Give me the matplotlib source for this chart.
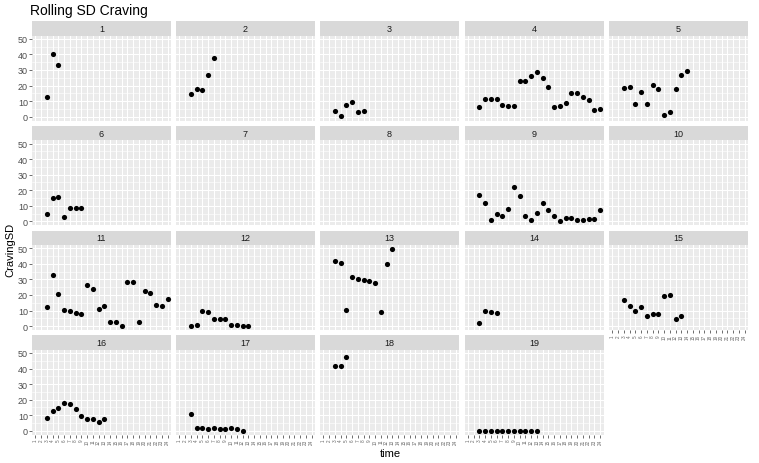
import matplotlib
matplotlib.use("Agg")
import matplotlib.pyplot as plt
from matplotlib.ticker import MultipleLocator

plt.rcParams['font.family'] = ['Liberation Sans', 'DejaVu Sans']

title = "Rolling SD Craving"
x_label = "time"
y_label = "CravingSD"
time_levels = list(range(1, 25))
y_ticks = [0, 10, 20, 30, 40, 50]

# values per participant (panel), observed from time 3 onwards
sd_1 = [12.6, 40.4, 33.5]
sd_2 = [14.9, 17.5, 17.2, 26.5, 37.4]
sd_3 = [4.0, 0.6, 7.7, 9.4, 2.8, 3.4]
sd_4 = [6.0, 11.7, 11.7, 11.1, 7.4, 7.2, 7.2, 22.8, 22.8, 26.3, 28.6, 25.0,
        18.8, 6.0, 7.2, 9.0, 15.4, 15.4, 12.8, 10.9, 4.2, 4.9]
sd_5 = [18.3, 19.0, 7.9, 15.8, 7.9, 20.3, 17.7, 0.8, 2.9, 17.7, 27.1, 29.2]
sd_6 = [4.9, 15.1, 15.6, 2.6, 8.7, 8.7, 8.7]
sd_7 = []
sd_8 = []
sd_9 = [17.2, 11.7, 0.9, 4.5, 3.8, 8.3, 21.9, 16.6, 3.6, 0.9, 5.1, 11.7,
        7.3, 3.2, 0.3, 1.9, 1.9, 1.1, 1.1, 1.3, 1.3, 7.5]
sd_10 = []
sd_11 = [12.3, 33.0, 20.6, 10.6, 9.6, 8.5, 8.0, 26.4, 23.8, 11.2, 13.2, 2.6,
         2.9, 0.0, 28.3, 28.1, 2.6, 22.5, 21.1, 13.6, 13.2, 17.2]
sd_12 = [0.0, 0.85, 9.4, 8.9, 4.9, 4.3, 4.3, 0.6, 0.6, 0.0, 0.0]
sd_13 = [42.1, 40.4, 10.6, 31.3, 30.0, 29.4, 29.2, 27.5, 9.2, 39.6, 49.6]
sd_14 = [2.1, 9.6, 9.2, 8.7]
sd_15 = [16.8, 13.2, 9.6, 12.6, 6.6, 7.5, 8.1, 19.2, 19.8, 4.5, 6.6]
sd_16 = [8.1, 12.8, 14.7, 17.7, 17.1, 14.1, 9.6, 7.7, 7.7, 5.8, 7.3]
sd_17 = [11.1, 2.1, 2.1, 1.3, 1.7, 1.3, 1.3, 1.7, 0.9, 0.2]
sd_18 = [41.5, 41.9, 47.6]
sd_19 = [0.0] * 11
first_time = 3

panels = [sd_1, sd_2, sd_3, sd_4, sd_5, sd_6, sd_7, sd_8, sd_9, sd_10,
          sd_11, sd_12, sd_13, sd_14, sd_15, sd_16, sd_17, sd_18, sd_19]

W, H = 759, 464
fig = plt.figure(figsize=(W / 100, H / 100), dpi=100)
fig.patch.set_facecolor('white')

col_left = [32, 176, 320, 464.5, 609]
pw = 139
strip_top = [22.3, 127.0, 231.7, 336.4]
sh = 14.3
ph = 85.0

all_vals = [v for p in panels for v in p]
ymin, ymax = min(all_vals), max(all_vals)
pad = (ymax - ymin) * 0.05

ncol = 5
n = len(panels)
for i, vals in enumerate(panels):
    r, c = divmod(i, ncol)
    left = col_left[c]
    top = strip_top[r]
    # strip
    sax = fig.add_axes([left / W, 1 - (top + sh) / H, pw / W, sh / H])
    sax.set_facecolor('#D9D9D9')
    sax.set_xticks([]); sax.set_yticks([])
    for s in sax.spines.values():
        s.set_visible(False)
    sax.text(0.5, 0.5, str(i + 1), ha='center', va='center', fontsize=6.5,
             color='#1A1A1A', transform=sax.transAxes)
    # panel
    ax = fig.add_axes([left / W, 1 - (top + sh + ph) / H, pw / W, ph / H])
    ax.set_facecolor('#EBEBEB')
    for s in ax.spines.values():
        s.set_visible(False)
    ax.set_xlim(0.4, len(time_levels) + 0.6)
    ax.set_ylim(ymin - pad, ymax + pad)
    ax.set_xticks(time_levels)
    ax.set_yticks(y_ticks)
    ax.yaxis.set_minor_locator(MultipleLocator(5))
    ax.grid(True, which='major', color='white', linewidth=0.75)
    ax.grid(True, which='minor', axis='y', color='white', linewidth=0.4)
    ax.set_axisbelow(True)
    ax.tick_params(which='minor', length=0)
    ax.tick_params(axis='both', which='major', length=2, width=0.5,
                   color='#333333', pad=1)
    if c == 0:
        ax.set_yticklabels([str(t) for t in y_ticks], fontsize=6.5, color='#4D4D4D')
    else:
        ax.tick_params(axis='y', length=0, labelleft=False)
    below = i + ncol
    if below >= n:
        ax.set_xticklabels([str(t) for t in time_levels], fontsize=3.3,
                           color='#666666', rotation=90)
    else:
        ax.tick_params(axis='x', length=0, labelbottom=False)
    if vals:
        times = [first_time + k for k in range(len(vals))]
        ax.scatter(times, vals, s=14, color='black', zorder=3, linewidths=0)

fig.text(30 / W, 1 - 11 / H, title, fontsize=10, color='black', ha='left', va='center')
fig.text(390 / W, 1 - 454 / H, x_label, fontsize=8, color='black', ha='center', va='center')
fig.text(10 / W, 1 - 250 / H, y_label, fontsize=8, color='black', ha='center',
         va='center', rotation=90)

fig.savefig('out.png', dpi=100)
